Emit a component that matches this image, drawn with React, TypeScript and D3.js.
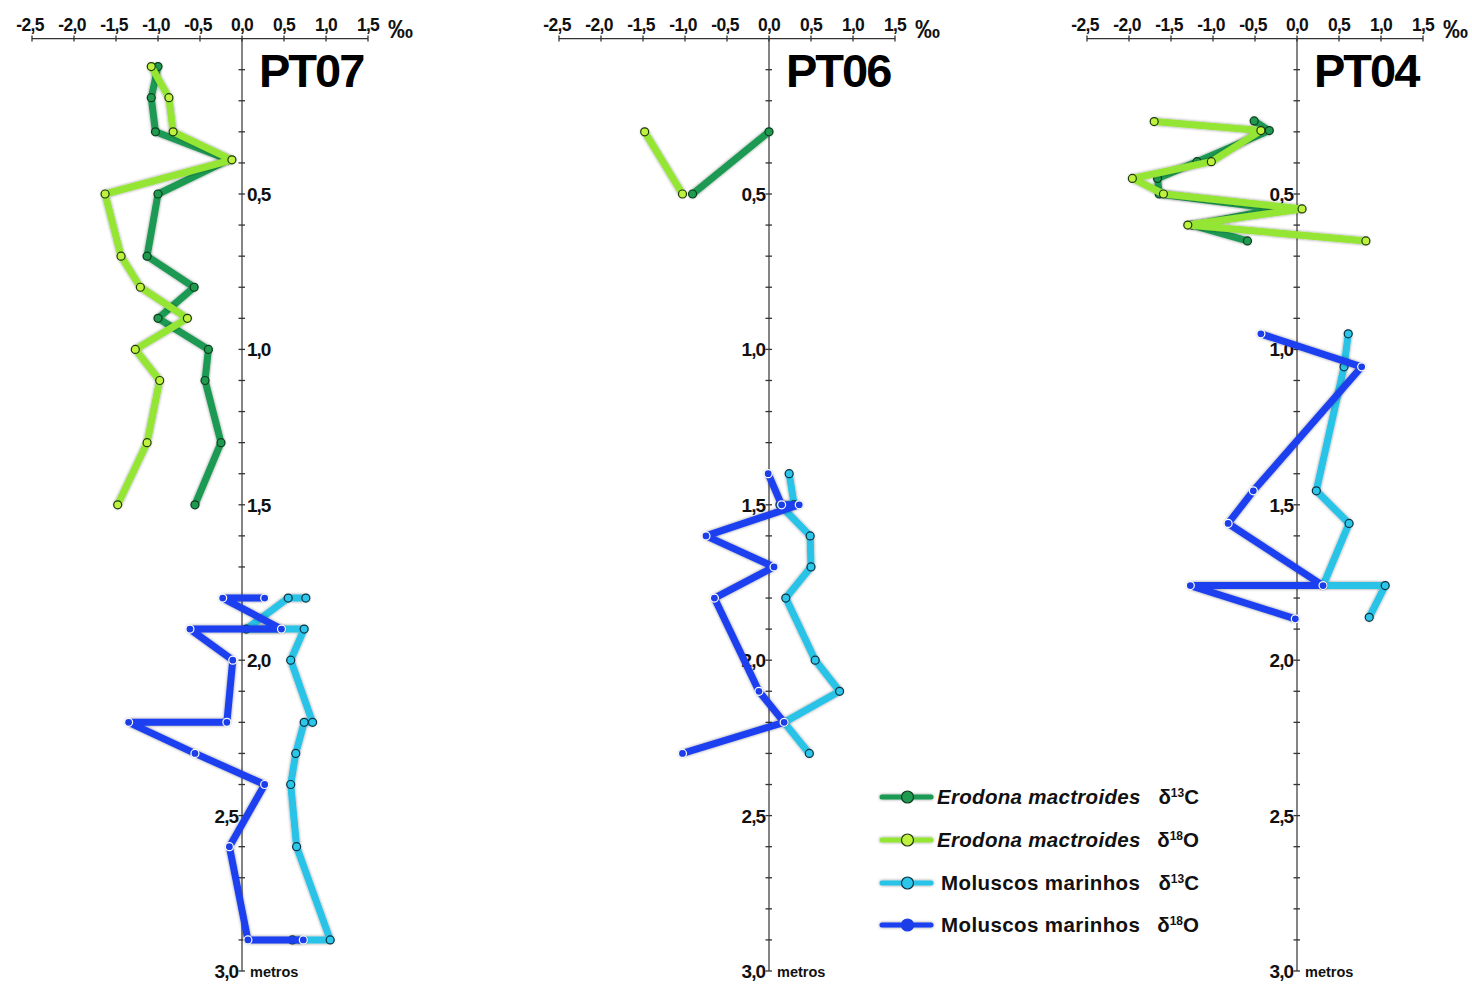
import React from "react";
import * as d3 from "d3";

// ---------- DATA (depth in metres, value in ‰) ----------
const X_TICKS = [-2.5, -2, -1.5, -1, -0.5, 0, 0.5, 1, 1.5];
const DEPTH_LABELS = [0.5, 1, 1.5, 2, 2.5, 3];
const DEPTH_MINOR = d3.range(1, 31).map((i) => i / 10);

type P = [number, number]; // [depth, value]

const PT07_EROD_C13: P[] = [[0.09, -1.0], [0.19, -1.08], [0.3, -1.03], [0.39, -0.16], [0.5, -1.0], [0.7, -1.13], [0.8, -0.57], [0.9, -1.0], [1.0, -0.4], [1.1, -0.44], [1.3, -0.25], [1.5, -0.56]];
const PT07_EROD_O18: P[] = [[0.09, -1.08], [0.19, -0.87], [0.3, -0.82], [0.39, -0.12], [0.5, -1.63], [0.7, -1.44], [0.8, -1.21], [0.9, -0.65], [1.0, -1.27], [1.1, -0.98], [1.3, -1.13], [1.5, -1.48]];
const PT07_MAR_C13: P[] = [[1.8, 0.76], [1.8, 0.55], [1.9, 0.05], [1.9, 0.74], [2.0, 0.58], [2.2, 0.84], [2.2, 0.74], [2.3, 0.64], [2.4, 0.58], [2.6, 0.65], [2.9, 1.05], [2.9, 0.6]];
const PT07_MAR_O18: P[] = [[1.8, 0.27], [1.8, -0.23], [1.9, 0.47], [1.9, -0.62], [2.0, -0.11], [2.2, -0.18], [2.2, -1.35], [2.3, -0.56], [2.4, 0.27], [2.6, -0.15], [2.9, 0.07], [2.9, 0.73]];

const PT06_EROD_C13: P[] = [[0.3, 0.0], [0.5, -0.91]];
const PT06_EROD_O18: P[] = [[0.3, -1.48], [0.5, -1.03]];
const PT06_MAR_C13: P[] = [[1.4, 0.24], [1.5, 0.3], [1.5, 0.13], [1.6, 0.49], [1.7, 0.5], [1.8, 0.2], [2.0, 0.55], [2.1, 0.84], [2.2, 0.18], [2.3, 0.48]];
const PT06_MAR_O18: P[] = [[1.4, -0.01], [1.5, 0.15], [1.5, 0.36], [1.6, -0.75], [1.7, 0.06], [1.8, -0.65], [2.1, -0.12], [2.2, 0.18], [2.3, -1.03]];

const PT04_EROD_C13: P[] = [[0.265, -0.51], [0.296, -0.33], [0.396, -1.19], [0.45, -1.66], [0.5, -1.64], [0.548, -0.25], [0.6, -1.25], [0.651, -0.59]];
const PT04_EROD_O18: P[] = [[0.267, -1.7], [0.296, -0.43], [0.396, -1.02], [0.45, -1.96], [0.5, -1.59], [0.548, 0.06], [0.6, -1.3], [0.651, 0.82]];
const PT04_MAR_C13: P[] = [[0.95, 0.61], [1.056, 0.56], [1.455, 0.23], [1.56, 0.62], [1.76, 0.31], [1.76, 1.05], [1.862, 0.86]];
const PT04_MAR_O18: P[] = [[0.95, -0.43], [1.056, 0.77], [1.455, -0.52], [1.56, -0.82], [1.76, 0.31], [1.76, -1.27], [1.867, -0.02]];

const PROFILE_NAMES = ["PT07", "PT06", "PT04"];
const LEGEND_NAMES = ["Erodona mactroides", "Erodona mactroides", "Moluscos marinhos", "Moluscos marinhos"];
const LEGEND_ISOTOPES = [["13", "C"], ["18", "O"], ["13", "C"], ["18", "O"]];

// ---------- STYLE / LAYOUT ----------
const SERIES_STYLE = [
  { line: "#1d9a52", fill: "#1f9a4f", stroke: "#0b3d1f" }, // Erodona d13C
  { line: "#95e534", fill: "#bff23e", stroke: "#1f3a0a" }, // Erodona d18O
  { line: "#29c3e8", fill: "#2cc6ea", stroke: "#0a3342" }, // marine d13C
  { line: "#1c3ff0", fill: "#1b3ee8", stroke: "#ffffff" }, // marine d18O
];
const PANEL_ZERO = [242, 769, 1297];
const UNIT = 84;
const Y0 = 38.6;
const Y3 = 971;
const FONT = "'Liberation Sans', Arial, Helvetica, sans-serif";

const fmt = (v: number) => (v < 0 ? "-" : "") + Math.abs(v).toFixed(1).replace(".", ",");

function Panel({ idx, series, rightLabels }: { idx: number; series: P[][]; rightLabels: number[] }) {
  const z = PANEL_ZERO[idx];
  const x = d3.scaleLinear().domain([-2.5, 1.5]).range([z - 2.5 * UNIT, z + 1.5 * UNIT]);
  const y = d3.scaleLinear().domain([0, 3]).range([Y0, Y3]);
  const line = d3
    .line<P>()
    .x((d) => x(d[1]))
    .y((d) => y(d[0]));
  return (
    <g>
      {/* top axis */}
      <line x1={x(-2.5)} x2={x(1.5)} y1={y(0)} y2={y(0)} stroke="#333" strokeWidth={1.3} />
      {X_TICKS.map((t) => (
        <g key={t}>
          <line x1={x(t)} x2={x(t)} y1={y(0) - 3} y2={y(0) + 3} stroke="#333" strokeWidth={1.3} />
          <text x={x(t) - (t < 0 ? 2 : 0)} y={31} textAnchor="middle" fontFamily={FONT} fontWeight="bold" fontSize={17.5} letterSpacing={-0.7} fill="#111">
            {fmt(t)}
          </text>
        </g>
      ))}
      <text x={x(1.5) + 20} y={38} fontFamily={FONT} fontWeight="bold" fontSize={25} fill="#111">
        ‰
      </text>
      {/* depth axis */}
      <line x1={x(0)} x2={x(0)} y1={y(0)} y2={y(3)} stroke="#333" strokeWidth={1.2} />
      {DEPTH_MINOR.map((d) => (
        <line key={d} x1={x(0) - 3.5} x2={x(0) + 3} y1={y(d)} y2={y(d)} stroke="#333" strokeWidth={1.3} />
      ))}
      {DEPTH_LABELS.map((d) => {
        const right = rightLabels.includes(d);
        return (
          <text
            key={d}
            x={right ? x(0) + 5 : x(0) - 4}
            y={y(d) + 7}
            textAnchor={right ? "start" : "end"}
            fontFamily={FONT}
            fontWeight="bold"
            fontSize={19}
            letterSpacing={-1}
            fill="#111"
          >
            {fmt(d)}
          </text>
        );
      })}
      <text x={x(0) + 8} y={y(3) + 6} fontFamily={FONT} fontWeight="bold" fontSize={14.5} fill="#111">
        metros
      </text>
      <text x={x(0) + 17} y={87} fontFamily={FONT} fontWeight="bold" fontSize={47} letterSpacing={-2} fill="#000">
        {PROFILE_NAMES[idx]}
      </text>
      {/* series */}
      {series.map((s, i) => (
        <g key={i}>
          <path d={line(s) || ""} fill="none" stroke={SERIES_STYLE[i].line} strokeWidth={7} strokeLinejoin="round" strokeLinecap="round" filter="url(#glow)" />
          {s.map((p, j) => (
            <circle key={j} cx={x(p[1])} cy={y(p[0])} r={4} fill={SERIES_STYLE[i].fill} stroke={SERIES_STYLE[i].stroke} strokeWidth={1.2} />
          ))}
        </g>
      ))}
    </g>
  );
}

function Legend() {
  const rows = [797, 840, 883, 925];
  return (
    <g>
      {rows.map((ry, i) => (
        <g key={i}>
          <line x1={882} x2={931} y1={ry} y2={ry} stroke={SERIES_STYLE[i].line} strokeWidth={5} strokeLinecap="round" filter="url(#glow)" />
          <circle cx={907.5} cy={ry} r={6} fill={SERIES_STYLE[i].fill} stroke={SERIES_STYLE[i].stroke === "#ffffff" ? "#1b3ee8" : SERIES_STYLE[i].stroke} strokeWidth={1.2} />
          <text x={i < 2 ? 937 : 941} y={ry + 7} fontFamily={FONT} fontWeight="bold" fontSize={20.5} fontStyle={i < 2 ? "italic" : "normal"} fill="#111" letterSpacing={i < 2 ? 0.3 : 0.4}>
            {LEGEND_NAMES[i]}
          </text>
          <text x={1199} y={ry + 7} textAnchor="end" fontFamily={FONT} fontWeight="bold" fontSize={20.5} fill="#111">
            δ
            <tspan fontSize={12} dy={-7}>
              {LEGEND_ISOTOPES[i][0]}
            </tspan>
            <tspan dy={7}>{LEGEND_ISOTOPES[i][1]}</tspan>
          </text>
        </g>
      ))}
    </g>
  );
}

export default function App() {
  return (
    <svg width={1472} height={985} style={{ position: "absolute", left: 0, top: 0, background: "#fff" }}>
      <defs>
        <filter id="glow" filterUnits="userSpaceOnUse" x={0} y={0} width={1472} height={985}>
          <feDropShadow dx={0} dy={0} stdDeviation={1.4} floodColor="#000" floodOpacity={0.45} />
        </filter>
      </defs>
      <rect width={1472} height={985} fill="#fff" />
      <Panel idx={0} series={[PT07_EROD_C13, PT07_EROD_O18, PT07_MAR_C13, PT07_MAR_O18]} rightLabels={[0.5, 1, 1.5, 2]} />
      <Panel idx={1} series={[PT06_EROD_C13, PT06_EROD_O18, PT06_MAR_C13, PT06_MAR_O18]} rightLabels={[]} />
      <Panel idx={2} series={[PT04_EROD_C13, PT04_EROD_O18, PT04_MAR_C13, PT04_MAR_O18]} rightLabels={[]} />
      <Legend />
    </svg>
  );
}
